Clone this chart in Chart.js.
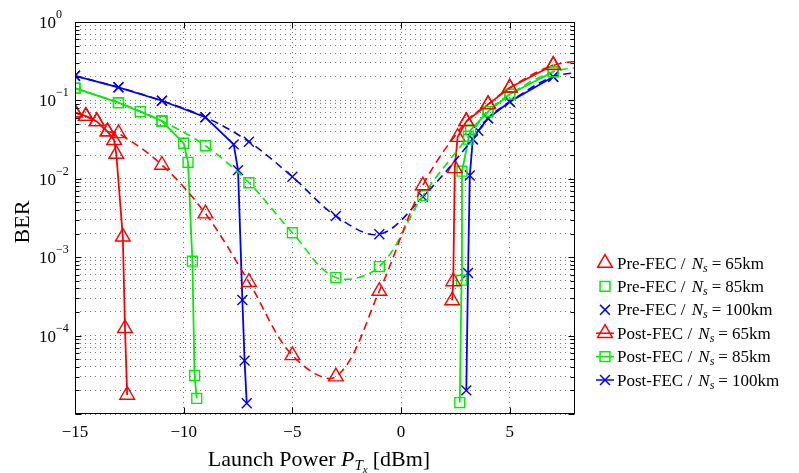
<!DOCTYPE html>
<html>
<head>
<meta charset="utf-8">
<script src="https://cdn.jsdelivr.net/npm/chart.js@4.4.1/dist/chart.umd.min.js"></script>
<style>
  html, body { margin: 0; background: #fff; }
  #wrap { width: 799px; height: 473px; position: relative; }
</style>
</head>
<body>
<div id="wrap"><canvas id="ber"></canvas></div>
<script>
"use strict";

// axis ticks
const X_TICKS = [-15, -10, -5, 0, 5];
const Y_DECADES = [-5, -4, -3, -2, -1, 0];
const Y_LABELED = [-4, -3, -2, -1, 0];

// Pre-FEC (markers + dashed fit)
const PRE65_X = [-15, -14.5, -14, -13.5, -13, -11, -9, -7, -5, -3, -1, 1, 3, 4, 5, 7, 9];
const PRE65_Y = [0.070, 0.063, 0.054, 0.040, 0.038, 0.0150, 0.0036, 4.8e-4, 5.6e-5, 3.0e-5, 3.7e-4, 8.2e-3, 0.054, 0.089, 0.145, 0.28, 0.33];
const PRE85_X = [-15, -13, -11, -9, -7, -5, -3, -1, 1, 3.1, 4, 5, 7, 9];
const PRE85_Y = [0.143, 0.0935, 0.0546, 0.0264, 8.9e-3, 2.05e-3, 5.5e-4, 7.6e-4, 6.1e-3, 0.035, 0.072, 0.12, 0.232, 0.27];
const PRE100_X = [-15, -13, -11, -9, -7, -5, -3, -1, 1, 3.3, 4, 5, 7, 9];
const PRE100_Y = [0.206, 0.147, 0.099, 0.061, 0.0297, 0.0106, 3.36e-3, 1.96e-3, 5.9e-3, 0.032, 0.059, 0.096, 0.20, 0.235];

// Post-FEC, low-power branch and high-power branch
const POST65_LX = [-15, -14.5, -14, -13.5, -13.2, -13.1, -12.8, -12.7, -12.6];
const POST65_LY = [0.070, 0.063, 0.054, 0.040, 0.031, 0.0207, 1.82e-3, 1.24e-4, 1.75e-5];
const POST65_RX = [2.35, 2.4, 2.47, 2.6, 3, 4, 5, 7];
const POST65_RY = [2.8e-4, 4.9e-4, 0.0136, 0.034, 0.054, 0.089, 0.145, 0.283];
const POST85_LX = [-15, -13, -12, -11, -10, -9.8, -9.6, -9.5, -9.4];
const POST85_LY = [0.143, 0.0935, 0.072, 0.0546, 0.0284, 0.0162, 8.9e-4, 3.1e-5, 1.58e-5];
const POST85_RX = [2.7, 2.78, 2.8, 3.1, 3.2, 4, 5, 7];
const POST85_RY = [1.4e-5, 5.1e-4, 0.0125, 0.032, 0.042, 0.072, 0.12, 0.232];
const POST100_LX = [-15, -13, -11, -9, -7.7, -7.5, -7.3, -7.2, -7.1];
const POST100_LY = [0.206, 0.147, 0.099, 0.061, 0.0275, 0.0129, 2.84e-4, 4.8e-5, 1.37e-5];
const POST100_RX = [3.0, 3.08, 3.16, 3.3, 3.55, 4, 5, 7];
const POST100_RY = [2.0e-5, 6.3e-4, 0.011, 0.032, 0.041, 0.059, 0.096, 0.20];

const SPANS = ["65", "85", "100"];
const COLORS = ["#ff0000", "#00ee00", "#0000ff"];
const STYLES = ["triangle", "rect", "crossRot"];
const RADII = [8.5, 7, 7];

const SERIF = '"Liberation Serif", "Times New Roman", serif';

function pts(xs, ys) {
  return xs.map((x, i) => ({ x, y: ys[i] }));
}
function branches(lx, ly, rx, ry) {
  // null point breaks the line between the two branches
  return pts(lx, ly).concat([{ x: 0, y: null }], pts(rx, ry));
}

const PRE = [pts(PRE65_X, PRE65_Y), pts(PRE85_X, PRE85_Y), pts(PRE100_X, PRE100_Y)];
const POST = [
  branches(POST65_LX, POST65_LY, POST65_RX, POST65_RY),
  branches(POST85_LX, POST85_LY, POST85_RX, POST85_RY),
  branches(POST100_LX, POST100_LY, POST100_RX, POST100_RY),
];

const datasets = [];
PRE.forEach((d, i) => datasets.push({
  label: "Pre-FEC / Ns = " + SPANS[i] + "km", fec: "Pre-FEC", km: SPANS[i],
  data: d, borderColor: COLORS[i], backgroundColor: "transparent",
  borderWidth: 1.6, borderDash: [8, 5], tension: 0.35,
  pointStyle: STYLES[i], pointRadius: RADII[i], pointBorderWidth: 1.4,
  pointBorderColor: COLORS[i], pointBackgroundColor: "transparent",
}));
POST.forEach((d, i) => datasets.push({
  label: "Post-FEC / Ns = " + SPANS[i] + "km", fec: "Post-FEC", km: SPANS[i],
  data: d, borderColor: COLORS[i], backgroundColor: "transparent",
  borderWidth: 1.8, tension: 0,
  pointStyle: STYLES[i], pointRadius: RADII[i], pointBorderWidth: 1.4,
  pointBorderColor: COLORS[i], pointBackgroundColor: "transparent",
}));

function drawRuns(ctx, runs, x, y, align) {
  let w = 0;
  runs.forEach((r) => { ctx.font = r.font; r.w = ctx.measureText(r.t).width + (r.pad || 0); w += r.w; });
  let cx = align === "center" ? x - w / 2 : align === "right" ? x - w : x;
  ctx.textAlign = "left";
  runs.forEach((r) => { ctx.font = r.font; ctx.fillText(r.t, cx, y + (r.dy || 0)); cx += r.w; });
  return w;
}

function legendIcon(ctx, style, r, x, y) {
  ctx.beginPath();
  if (style === "triangle") {
    const a = Math.PI * 2 / 3;
    ctx.moveTo(x, y - r);
    ctx.lineTo(x + Math.sin(a) * r, y - Math.cos(a) * r);
    ctx.lineTo(x - Math.sin(a) * r, y - Math.cos(a) * r);
    ctx.closePath();
  } else if (style === "rect") {
    const s = Math.SQRT1_2 * r;
    ctx.rect(x - s, y - s, 2 * s, 2 * s);
  } else {
    const s = Math.SQRT1_2 * r;
    ctx.moveTo(x - s, y - s); ctx.lineTo(x + s, y + s);
    ctx.moveTo(x - s, y + s); ctx.lineTo(x + s, y - s);
  }
  ctx.stroke();
}

// frame, ticks, labels, titles and legend in MATLAB style
const decor = {
  id: "decor",
  afterDraw(chart) {
    const { ctx, chartArea: a, scales } = chart;
    const xs = scales.x, ys = scales.y;
    ctx.save();
    ctx.strokeStyle = "#000";
    ctx.fillStyle = "#000";
    ctx.lineWidth = 1;
    const L = Math.round(a.left) + 0.5, R = Math.round(a.right) - 0.5;
    const T = Math.round(a.top) + 0.5, B = Math.round(a.bottom) - 0.5;
    ctx.strokeRect(L, T, R - L, B - T);

    ctx.beginPath();
    ys.ticks.forEach((t) => {
      const py = Math.round(ys.getPixelForValue(t.value)) + 0.5;
      const len = t.major ? 6 : 4;
      ctx.moveTo(L, py); ctx.lineTo(L + len, py);
      ctx.moveTo(R, py); ctx.lineTo(R - len, py);
    });
    X_TICKS.forEach((v) => {
      const px = Math.round(xs.getPixelForValue(v)) + 0.5;
      ctx.moveTo(px, B); ctx.lineTo(px, B - 6);
      ctx.moveTo(px, T); ctx.lineTo(px, T + 6);
    });
    ctx.stroke();

    // x tick labels
    ctx.textBaseline = "alphabetic";
    ctx.font = "17px " + SERIF;
    ctx.textAlign = "center";
    X_TICKS.forEach((v) => {
      const txt = v < 0 ? "\u2212" + Math.abs(v) : String(v);
      ctx.fillText(txt, xs.getPixelForValue(v), a.bottom + 23);
    });

    // y tick labels 10^k
    Y_LABELED.forEach((k) => {
      const py = ys.getPixelForValue(Math.pow(10, k));
      ctx.font = "17px " + SERIF;
      ctx.textAlign = "right";
      ctx.fillText("10", 56, py + 6);
      ctx.font = "12px " + SERIF;
      ctx.textAlign = "left";
      ctx.fillText(k < 0 ? "\u2212" + Math.abs(k) : String(k), 56, py - 4);
    });

    // axis titles
    drawRuns(ctx, [
      { t: "Launch Power ", font: "22px " + SERIF },
      { t: "P", font: "italic 22px " + SERIF },
      { t: "T", font: "italic 15px " + SERIF, dy: 4 },
      { t: "x", font: "italic 11px " + SERIF, dy: 7, pad: 5 },
      { t: "[dBm]", font: "22px " + SERIF },
    ], 319, 466, "center");

    ctx.save();
    ctx.translate(29, 222);
    ctx.rotate(-Math.PI / 2);
    ctx.font = "22px " + SERIF;
    ctx.textAlign = "center";
    ctx.fillText("BER", 0, 0);
    ctx.restore();

    // legend
    chart.data.datasets.forEach((ds, i) => {
      const cy = 263 + i * 23.4;
      ctx.strokeStyle = ds.borderColor;
      ctx.lineWidth = 1.5;
      if (ds.fec === "Post-FEC") {
        ctx.beginPath(); ctx.moveTo(596, cy); ctx.lineTo(614, cy); ctx.stroke();
      }
      legendIcon(ctx, ds.pointStyle, ds.pointRadius, 605, cy);
      ctx.fillStyle = "#000";
      drawRuns(ctx, [
        { t: ds.fec + " / ", font: "17px " + SERIF, pad: 2 },
        { t: "N", font: "italic 17px " + SERIF },
        { t: "s", font: "italic 12px " + SERIF, dy: 3, pad: 4 },
        { t: "=", font: "17px " + SERIF, pad: 4 },
        { t: ds.km + "km", font: "17px " + SERIF },
      ], 617, cy + 5.5, "left");
    });
    ctx.restore();
  },
};

new Chart(document.getElementById("ber"), {
  type: "line",
  data: { datasets },
  plugins: [decor],
  options: {
    responsive: true,
    maintainAspectRatio: false,
    animation: false,
    events: [],
    layout: { padding: { left: 75, top: 22, right: 224, bottom: 59 } },
    plugins: { legend: { display: false }, tooltip: { enabled: false } },
    scales: {
      x: {
        type: "linear", min: -15, max: 8,
        afterBuildTicks: (s) => { s.ticks = X_TICKS.map((v) => ({ value: v })); },
        ticks: { display: false },
        grid: { drawTicks: false, color: "rgba(0,0,0,0.55)", lineWidth: 1 },
        border: { display: false, dash: [1, 4] },
      },
      y: {
        type: "logarithmic", min: 1e-5, max: 1,
        afterBuildTicks: (s) => {
          const t = [];
          Y_DECADES.forEach((k) => {
            for (let m = 1; m <= 9; m++) {
              if (k === 0 && m > 1) break;
              t.push({ value: m * Math.pow(10, k), major: m === 1 });
            }
          });
          s.ticks = t;
        },
        ticks: { display: false },
        grid: { drawTicks: false, color: "rgba(0,0,0,0.55)", lineWidth: 1 },
        border: { display: false, dash: [1, 4] },
      },
    },
  },
});
</script>
</body>
</html>
